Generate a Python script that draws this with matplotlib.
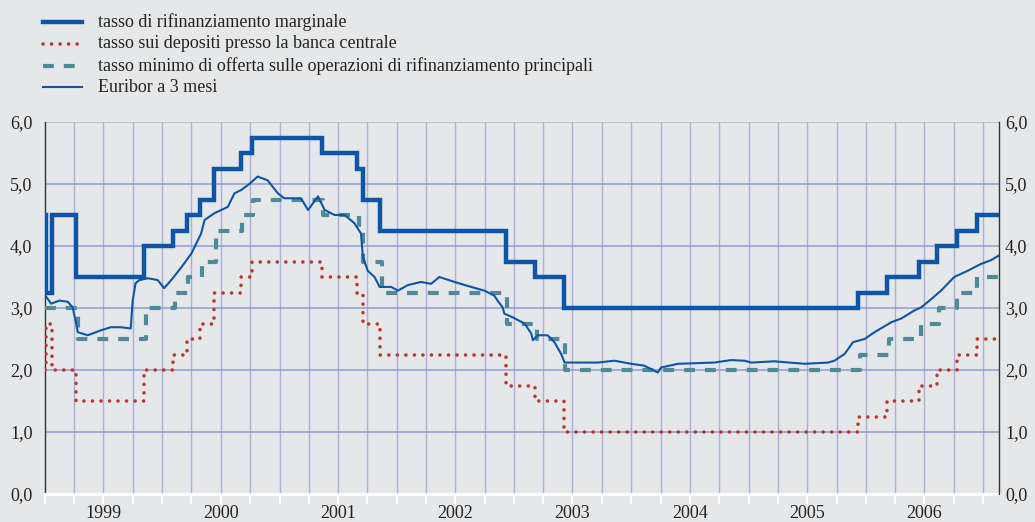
import matplotlib
matplotlib.use('Agg')
import matplotlib.pyplot as plt
from matplotlib.lines import Line2D
import pandas as pd

# ---------------- data ----------------
end_date = '2007-02-20'

mlf_dates = ['1999-01-01', '1999-01-04', '1999-01-22', '1999-04-09', '1999-11-05',
             '2000-02-04', '2000-03-17', '2000-04-28', '2000-06-09', '2000-09-01',
             '2000-10-06', '2001-05-11', '2001-08-31', '2001-09-18', '2001-11-09',
             '2002-12-06', '2003-03-07', '2003-06-06', '2005-12-06', '2006-03-08',
             '2006-06-15', '2006-08-09', '2006-10-11', '2006-12-13']
mlf_rates = [4.50, 3.25, 4.50, 3.50, 4.00, 4.25, 4.50, 4.75, 5.25, 5.50,
             5.75, 5.50, 5.25, 4.75, 4.25, 3.75, 3.50, 3.00, 3.25, 3.50,
             3.75, 4.00, 4.25, 4.50]

dep_dates = mlf_dates
dep_rates = [2.00, 2.75, 2.00, 1.50, 2.00, 2.25, 2.50, 2.75, 3.25, 3.50,
             3.75, 3.50, 3.25, 2.75, 2.25, 1.75, 1.50, 1.00, 1.25, 1.50,
             1.75, 2.00, 2.25, 2.50]

mro_dates = ['1999-01-01', '1999-04-14', '1999-11-10', '2000-02-09', '2000-03-22',
             '2000-05-04', '2000-06-15', '2000-09-06', '2000-10-11', '2001-05-15',
             '2001-09-05', '2001-09-18', '2001-11-14', '2002-12-11', '2003-03-12',
             '2003-06-09', '2005-12-12', '2006-03-14', '2006-06-21', '2006-08-15',
             '2006-10-11', '2006-12-13']
mro_rates = [3.00, 2.50, 3.00, 3.25, 3.50, 3.75, 4.25, 4.50, 4.75, 4.50,
             4.25, 3.75, 3.25, 2.75, 2.50, 2.00, 2.25, 2.50, 2.75, 3.00,
             3.25, 3.50]

eur_dates = ['1999-01-05', '1999-01-20', '1999-02-15', '1999-03-13', '1999-03-28',
             '1999-04-08', '1999-04-13', '1999-05-14', '1999-06-24', '1999-07-25',
             '1999-08-25', '1999-09-25', '1999-10-01', '1999-10-10', '1999-10-22',
             '1999-11-17', '1999-12-18', '2000-01-07', '2000-01-29', '2000-03-01',
             '2000-04-01', '2000-05-01', '2000-05-12', '2000-06-12', '2000-07-23',
             '2000-08-13', '2000-09-02', '2000-09-28', '2000-10-24', '2000-11-24',
             '2000-12-26', '2001-01-15', '2001-03-08', '2001-03-30', '2001-04-30',
             '2001-05-21', '2001-06-21', '2001-07-22', '2001-08-21', '2001-09-11',
             '2001-09-17', '2001-10-02', '2001-10-23', '2001-11-08', '2001-12-14',
             '2002-01-04', '2002-02-04', '2002-03-17', '2002-04-17', '2002-05-13',
             '2002-06-29', '2002-08-20', '2002-09-30', '2002-10-31', '2002-11-10',
             '2002-11-26', '2002-12-01', '2002-12-27', '2003-02-02', '2003-02-23',
             '2003-02-28', '2003-03-15', '2003-04-15', '2003-05-06', '2003-05-27',
             '2003-06-07', '2003-07-29', '2003-09-19', '2003-11-09', '2003-12-31',
             '2004-02-10', '2004-03-23', '2004-04-02', '2004-05-25', '2004-09-15',
             '2004-11-06', '2004-12-18', '2005-01-08', '2005-03-21', '2005-06-23',
             '2005-09-04', '2005-09-24', '2005-10-26', '2005-11-21', '2005-12-27',
             '2006-01-27', '2006-03-20', '2006-04-20', '2006-05-31', '2006-06-21',
             '2006-07-17', '2006-08-22', '2006-10-02', '2006-11-13', '2006-12-24',
             '2007-01-24', '2007-02-19']
eur_vals = [3.18, 3.07, 3.12, 3.10, 3.01, 2.75, 2.61, 2.56, 2.64, 2.69,
            2.69, 2.67, 3.12, 3.40, 3.45, 3.48, 3.45, 3.32, 3.45, 3.66,
            3.88, 4.20, 4.42, 4.53, 4.63, 4.85, 4.90, 5.00, 5.12, 5.06,
            4.85, 4.77, 4.77, 4.58, 4.80, 4.58, 4.50, 4.50, 4.37, 4.20,
            3.82, 3.60, 3.50, 3.34, 3.34, 3.28, 3.37, 3.42, 3.39, 3.50,
            3.42, 3.34, 3.28, 3.20, 3.12, 3.01, 2.91, 2.85, 2.75, 2.59,
            2.48, 2.56, 2.56, 2.45, 2.26, 2.12, 2.12, 2.12, 2.15, 2.10,
            2.07, 1.96, 2.04, 2.10, 2.12, 2.16, 2.15, 2.12, 2.14, 2.10,
            2.12, 2.15, 2.26, 2.45, 2.50, 2.61, 2.77, 2.83, 2.96, 3.01,
            3.12, 3.28, 3.50, 3.60, 3.71, 3.77, 3.85]

year_labels = ['1999', '2000', '2001', '2002', '2003', '2004', '2005', '2006']
ytick_vals = [0, 1, 2, 3, 4, 5, 6]
ytick_labels = ['0,0', '1,0', '2,0', '3,0', '4,0', '5,0', '6,0']
legend_labels = ['tasso di rifinanziamento marginale',
                 'tasso sui depositi presso la banca centrale',
                 'tasso minimo di offerta sulle operazioni di rifinanziamento principali',
                 'Euribor a 3 mesi']

# ---------------- style ----------------
BG = '#e6e7e9'
BLUE = '#0d55a6'
RED = '#b8382e'
TEAL = '#4d8b98'
FONT = 'Liberation Serif'
TXT = '#222222'
FS = 13

plt.rcParams['font.family'] = [FONT, 'DejaVu Serif']

fig = plt.figure(figsize=(10.35, 5.22), dpi=100, facecolor=BG)
ax = fig.add_axes([45 / 1035, 1 - 494 / 522, (999.5 - 45) / 1035, (494 - 122) / 522])
ax.set_facecolor(BG)


def step_series(dates, vals):
    d = pd.to_datetime(list(dates) + [end_date])
    v = list(vals) + [vals[-1]]
    return d, v


x0 = pd.Timestamp('1999-01-01')
x1 = pd.Timestamp(end_date)

# grid
quarters = pd.date_range('1999-04-01', '2007-01-01', freq='QS')
for q in quarters:
    ax.axvline(q, color='#a7b1dc', lw=1.0, zorder=0)
for yv in ytick_vals[1:]:
    ax.axhline(yv, color='#8f9cd6' if yv < 6 else '#a9b1d6', lw=1.1, zorder=0)

# series
d, v = step_series(mlf_dates, mlf_rates)
ax.plot(d, v, drawstyle='steps-post', color=BLUE, lw=3.2, solid_joinstyle='miter', zorder=4)

d, v = step_series(mro_dates, mro_rates)
ax.plot(d, v, drawstyle='steps-post', color=TEAL, lw=3.0, dashes=(2.6, 2.4), zorder=3)

d, v = step_series(dep_dates, dep_rates)
ax.plot(d, v, drawstyle='steps-post', color=RED, lw=2.6, dashes=(0.01, 2.35),
        dash_capstyle='round', zorder=3)

ax.plot(pd.to_datetime(eur_dates), eur_vals, color=BLUE, lw=1.5, zorder=5)

# axes
ax.set_xlim(x0, x1)
ax.set_ylim(0, 6)
ax.set_yticks(ytick_vals)
ax.set_yticklabels(ytick_labels)
ax.tick_params(axis='y', length=0, labelsize=FS, pad=9, labelcolor=TXT)

axr = ax.twinx()
axr.set_ylim(0, 6)
axr.set_yticks(ytick_vals)
axr.set_yticklabels(ytick_labels)
axr.tick_params(axis='y', length=0, labelsize=FS, pad=4, labelcolor=TXT)
for s in ['left', 'top', 'bottom']:
    axr.spines[s].set_visible(False)
axr.spines['right'].set_color('#333333')
axr.spines['right'].set_linewidth(1.0)

ax.xaxis.remove_overlapping_locs = False
ax.set_xticks(list(pd.date_range('1999-01-01', '2007-01-01', freq='QS')))
ax.set_xticklabels([])
ax.tick_params(axis='x', which='major', direction='out', length=7, width=1.5,
               color='white')
mid_years = [pd.Timestamp(f'{y}-07-01') for y in year_labels]
ax.set_xticks(mid_years, minor=True)
ax.set_xticklabels(year_labels, minor=True)
ax.tick_params(axis='x', which='minor', length=0, labelsize=FS, pad=8,
               labelcolor=TXT)

ax.spines['left'].set_color('#333333')
ax.spines['left'].set_linewidth(1.0)
ax.spines['right'].set_visible(False)
ax.spines['top'].set_visible(False)
ax.spines['bottom'].set_color('white')
ax.spines['bottom'].set_linewidth(2.2)

# legend (manual)
rows_y = [22, 44, 66, 87]
styles = [dict(color=BLUE, lw=3.2),
          dict(color=RED, lw=2.6, dashes=(0.01, 2.35), dash_capstyle='round'),
          dict(color=TEAL, lw=3.0, dashes=(2.6, 2.4)),
          dict(color=BLUE, lw=1.5)]
for yy, lab, st in zip(rows_y, legend_labels, styles):
    fy = 1 - yy / 522
    fig.add_artist(Line2D([43 / 1035, 82 / 1035], [fy, fy], transform=fig.transFigure, **st))
    fig.text(98 / 1035, fy, lab, fontsize=FS, va='center', ha='left', color=TXT)

fig.savefig('out.png', dpi=100, facecolor=BG)
